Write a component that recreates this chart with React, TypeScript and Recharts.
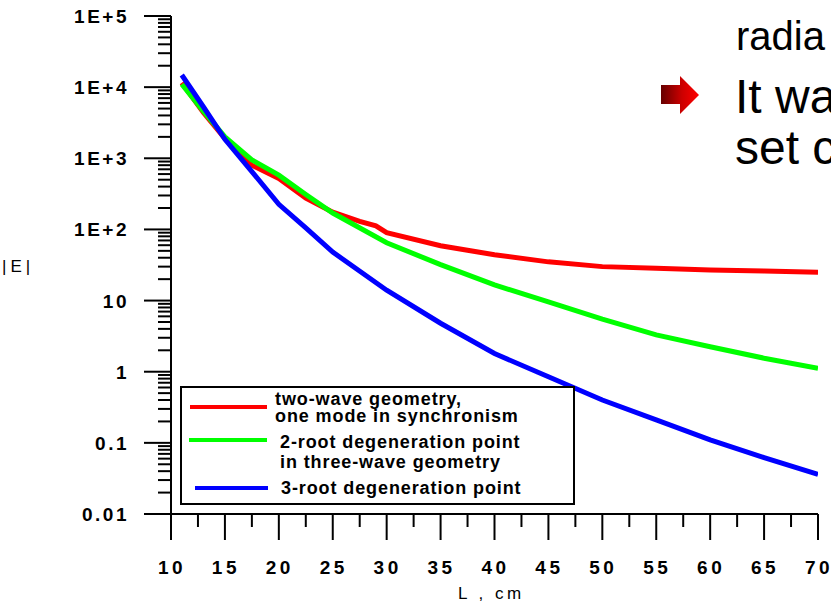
import React from "react";
import { LineChart, Line, XAxis, YAxis, Legend } from "recharts";

// L, cm values and |E| for each curve
const redL = [11, 13, 15, 17.5, 20, 22.5, 25, 27.5, 29, 30, 35, 40, 45, 50, 55, 60, 65, 70];
const redE = [11500, 4400, 1900, 800, 520, 275, 175, 130, 112, 90, 59, 44, 35, 30, 28.5, 27, 26, 25];

const greenL = [11, 13, 15, 17.5, 20, 22.5, 25, 30, 35, 40, 45, 50, 55, 60, 65, 70];
const greenE = [11000, 4600, 2000, 950, 580, 310, 170, 65, 32, 16.6, 9.6, 5.5, 3.3, 2.24, 1.55, 1.12];

const blueL = [11, 13, 15, 17.5, 20, 22.5, 25, 30, 35, 40, 45, 50, 55, 60, 65, 70];
const blueE = [14800, 5300, 1850, 650, 225, 105, 48, 14, 4.8, 1.8, 0.85, 0.4, 0.21, 0.11, 0.062, 0.036];

const xMajor = [10, 15, 20, 25, 30, 35, 40, 45, 50, 55, 60, 65, 70];
const xMinor = [12.5, 17.5, 22.5, 27.5, 32.5, 37.5, 42.5, 47.5, 52.5, 57.5, 62.5, 67.5];

const yMajor = [0.01, 0.1, 1, 10, 100, 1000, 10000, 100000];
const yLabels = ["0.01", "0.1", "1", "10", "1E+2", "1E+3", "1E+4", "1E+5"];
const yMinorMult = [2, 3, 4, 5, 6, 7, 8, 9];

const zip = (xs: number[], ys: number[]) => xs.map((x, i) => ({ L: x, E: ys[i] }));
const redData = zip(redL, redE);
const greenData = zip(greenL, greenE);
const blueData = zip(blueL, blueE);

const yTicks = [
  ...yMajor,
  ...yMajor.slice(0, -1).flatMap((d) => yMinorMult.map((m) => m * d)),
];
const xTicks = [...xMajor, ...xMinor];

const FONT = "'Liberation Sans', Arial, Helvetica, sans-serif";

const YTick = (props: any) => {
  const { x, y, payload } = props;
  const i = yMajor.indexOf(payload.value);
  const major = i >= 0;
  return (
    <g>
      <line x1={x - (major ? 27 : 13)} x2={x} y1={y} y2={y} stroke="#000" strokeWidth={2} />
      {major && (
        <text
          x={x - 42}
          y={y}
          dy={7}
          textAnchor="end"
          fontFamily={FONT}
          fontWeight="bold"
          fontSize={19}
          letterSpacing={2.5}
          fill="#000"
        >
          {yLabels[i]}
        </text>
      )}
    </g>
  );
};

const XTick = (props: any) => {
  const { x, y, payload } = props;
  const major = xMajor.indexOf(payload.value) >= 0;
  return (
    <g>
      <line x1={x} x2={x} y1={y} y2={y + (major ? 26 : 13)} stroke="#000" strokeWidth={2} />
      {major && (
        <text
          x={x + 1}
          y={y + 60}
          textAnchor="middle"
          fontFamily={FONT}
          fontWeight="bold"
          fontSize={19}
          letterSpacing={3.5}
          fill="#000"
        >
          {payload.value}
        </text>
      )}
    </g>
  );
};

const legendItems = [
  { color: "#ff0000", y: 21, x1: 10, x2: 87, tx: 95, lines: ["two-wave geometry,", "one mode in synchronism"], ty: [13, 30] },
  { color: "#00ff00", y: 54, x1: 9, x2: 87, tx: 100, lines: ["2-root degeneration point", "in three-wave geometry"], ty: [56, 76] },
  { color: "#0000ff", y: 102, x1: 15, x2: 88, tx: 101, lines: ["3-root degeneration point"], ty: [102] },
];

const renderLegend = () => (
  <svg width={395} height={119} style={{ display: "block" }}>
    <rect x={1} y={1} width={393} height={117} fill="#fff" stroke="#000" strokeWidth={2} />
    {legendItems.map((it) => (
      <g key={it.color}>
        <line x1={it.x1} x2={it.x2} y1={it.y} y2={it.y} stroke={it.color} strokeWidth={4} />
        {it.lines.map((t, j) => (
          <text
            key={t}
            x={it.tx}
            y={it.ty[j]}
            dominantBaseline="central"
            fontFamily={FONT}
            fontWeight="bold"
            fontSize={18}
            letterSpacing={0.9}
            fill="#000"
          >
            {t}
          </text>
        ))}
      </g>
    ))}
  </svg>
);

export default function App() {
  return (
    <div style={{ position: "absolute", left: 0, top: 0, width: 831, height: 603, background: "#fff", overflow: "hidden" }}>
      <LineChart width={831} height={603} margin={{ top: 16, right: 13, bottom: 0, left: 0 }}>
        <XAxis
          type="number"
          dataKey="L"
          domain={[10, 70]}
          ticks={xTicks}
          interval={0}
          tick={<XTick />}
          tickLine={false}
          tickSize={0}
          tickMargin={0}
          height={89}
          axisLine={{ stroke: "#000", strokeWidth: 2 }}
          allowDataOverflow
        />
        <YAxis
          scale="log"
          domain={[0.01, 100000]}
          ticks={yTicks}
          interval={0}
          tick={<YTick />}
          tickLine={false}
          tickSize={0}
          tickMargin={0}
          width={171}
          axisLine={{ stroke: "#000", strokeWidth: 2 }}
          allowDataOverflow
        />
        <Legend
          layout="vertical"
          verticalAlign="middle"
          align="center"
          content={renderLegend}
          wrapperStyle={{ left: 180, top: 386, width: 395, height: 119 }}
        />
        <Line data={redData} dataKey="E" stroke="#ff0000" strokeWidth={5} dot={false} isAnimationActive={false} />
        <Line data={greenData} dataKey="E" stroke="#00ff00" strokeWidth={5} dot={false} isAnimationActive={false} />
        <Line data={blueData} dataKey="E" stroke="#0000ff" strokeWidth={5} dot={false} isAnimationActive={false} />
      </LineChart>
      <svg width={831} height={603} style={{ position: "absolute", left: 0, top: 0, pointerEvents: "none" }}>
        <text x={2} y={272} fontFamily={FONT} fontSize={17} letterSpacing={4} fill="#000">|E|</text>
        <text x={458} y={599} fontFamily={FONT} fontSize={17} letterSpacing={3.5} fill="#000">L , cm</text>
        <text x={736} y={50} fontFamily={FONT} fontSize={40} fill="#000">radia</text>
        <text x={735} y={113} fontFamily={FONT} fontSize={48} fill="#000">It wa</text>
        <text x={735} y={164} fontFamily={FONT} fontSize={48} fill="#000">set c</text>
        <defs>
          <linearGradient id="arr" x1="0" x2="1" y1="0" y2="0">
            <stop offset="0" stopColor="#660000" />
            <stop offset="0.55" stopColor="#cc0000" />
            <stop offset="1" stopColor="#ff0000" />
          </linearGradient>
        </defs>
        <polygon points="661,85 680,85 680,76 699,95 680,114 680,104 661,104" fill="url(#arr)" />
      </svg>
    </div>
  );
}
